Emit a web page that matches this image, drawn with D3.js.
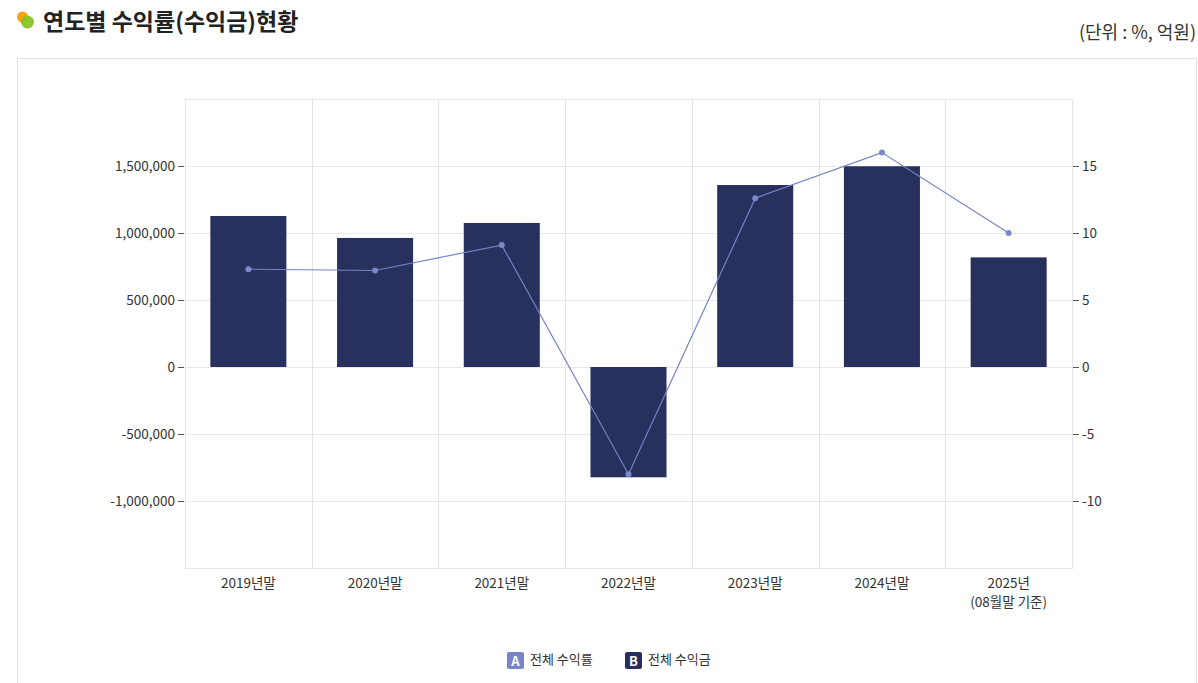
<!DOCTYPE html>
<html><head><meta charset="utf-8">
<script src="https://cdn.jsdelivr.net/npm/d3@7"></script>
<style>
body{margin:0;background:#fff;font-family:"Noto Sans CJK KR","Noto Sans",sans-serif;}
</style></head>
<body>
<svg id="c" width="1198" height="683"></svg>
<script>
const categories = ["2019년말","2020년말","2021년말","2022년말","2023년말","2024년말","2025년\n(08월말 기준)"];
const profitAmount = [1127000, 963000, 1075000, -823000, 1358000, 1498000, 818000];
const profitRate = [7.3, 7.2, 9.1, -8.0, 12.6, 16.0, 10.0];
const leftTicks = [-1000000, -500000, 0, 500000, 1000000, 1500000];
const rightTicks = [-10, -5, 0, 5, 10, 15];
const seriesNames = ["전체 수익률","전체 수익금"];

const svg = d3.select("#c");
const font = '"Noto Sans CJK KR","Noto Sans",sans-serif';
const fmt = d => d3.format(",")(d).replace("\u2212","-");

// title
svg.append("circle").attr("cx",22.5).attr("cy",17).attr("r",5.5).attr("fill","#f5a112");
svg.append("circle").attr("cx",27.5).attr("cy",22).attr("r",6.5).attr("fill","#86c21e").attr("opacity",0.92);
svg.append("text").attr("x",43).attr("y",30).attr("font-size",23).attr("font-weight",700)
  .attr("fill","#222").attr("font-family",font).text("연도별 수익률(수익금)현황");
svg.append("text").attr("x",1196).attr("y",39).attr("text-anchor","end").attr("font-size",18)
  .attr("fill","#333").attr("font-family",font).text("(단위 : %, 억원)");

// box
svg.append("rect").attr("x",17.5).attr("y",58.5).attr("width",1179).attr("height",640)
  .attr("fill","none").attr("stroke","#e2e2e2");

const m = {l:185, r:1072, t:99, b:568};
const x = d3.scaleBand().domain(categories).range([m.l,m.r]).paddingInner(0).paddingOuter(0);
const yL = d3.scaleLinear().domain([-1500000,2000000]).range([m.b,m.t]);
const yR = d3.scaleLinear().domain([-15,20]).range([m.b,m.t]);

const g = svg.append("g");
g.selectAll(".hg").data(leftTicks).enter().append("line")
  .attr("x1",m.l).attr("x2",m.r).attr("y1",d=>Math.round(yL(d))+0.5).attr("y2",d=>Math.round(yL(d))+0.5)
  .attr("stroke","#e8e8e8");
g.append("rect").attr("x",m.l+0.5).attr("y",m.t+0.5).attr("width",m.r-m.l).attr("height",m.b-m.t)
  .attr("fill","none").attr("stroke","#e6e6e6");
g.selectAll(".vg").data(categories.slice(1)).enter().append("line")
  .attr("x1",d=>Math.round(x(d))+0.5).attr("x2",d=>Math.round(x(d))+0.5).attr("y1",m.t).attr("y2",m.b)
  .attr("stroke","#e4e4e8");

const axL = d3.axisLeft(yL).tickValues(leftTicks).tickSize(6).tickPadding(3).tickFormat(fmt);
const gl = svg.append("g").attr("transform",`translate(${m.l-1},0)`).call(axL);
gl.select(".domain").remove();
gl.selectAll("line").attr("stroke","#555");
gl.selectAll("text").attr("font-size",13.5).attr("fill","#333").attr("font-family",font);

const axR = d3.axisRight(yR).tickValues(rightTicks).tickSize(6).tickPadding(3).tickFormat(fmt);
const gr = svg.append("g").attr("transform",`translate(${m.r+1},0)`).call(axR);
gr.select(".domain").remove();
gr.selectAll("line").attr("stroke","#555");
gr.selectAll("text").attr("font-size",13.5).attr("fill","#333").attr("font-family",font);

const bw = x.bandwidth()*0.6;
g.selectAll(".bar").data(profitAmount).enter().append("rect")
  .attr("x",(d,i)=>x(categories[i])+(x.bandwidth()-bw)/2)
  .attr("width",bw)
  .attr("y",d=>yL(Math.max(0,d)))
  .attr("height",d=>Math.abs(yL(d)-yL(0)))
  .attr("fill","#28305e");

const cx = i => x(categories[i])+x.bandwidth()/2;
const line = d3.line().x((d,i)=>cx(i)).y(d=>yR(d));
g.append("path").datum(profitRate).attr("d",line).attr("fill","none").attr("stroke","#7483c6").attr("stroke-width",1.2);
g.selectAll(".pt").data(profitRate).enter().append("circle")
  .attr("cx",(d,i)=>cx(i)).attr("cy",d=>yR(d)).attr("r",3).attr("fill","#7a88cc");

categories.forEach((c,i)=>{
  const lines = c.split("\n");
  const t = svg.append("text").attr("x",cx(i)).attr("y",588).attr("text-anchor","middle")
    .attr("font-size",13.5).attr("fill","#333").attr("font-family",font);
  lines.forEach((l,j)=>t.append("tspan").attr("x",cx(i)).attr("dy",j?19:0).text(l));
});

const leg = [{k:"A",c:"#7785c8",n:seriesNames[0],x:507},{k:"B",c:"#262e5c",n:seriesNames[1],x:625}];
leg.forEach(l=>{
  svg.append("rect").attr("x",l.x).attr("y",652).attr("width",17).attr("height",17).attr("rx",2).attr("fill",l.c);
  svg.append("text").attr("x",l.x+8.5).attr("y",665.5).attr("text-anchor","middle").attr("font-size",13)
    .attr("font-weight",700).attr("fill","#fff").attr("font-family",font).text(l.k);
  svg.append("text").attr("x",l.x+23).attr("y",664).attr("font-size",13).attr("fill","#333")
    .attr("font-family",font).text(l.n);
});
</script>
</body></html>
